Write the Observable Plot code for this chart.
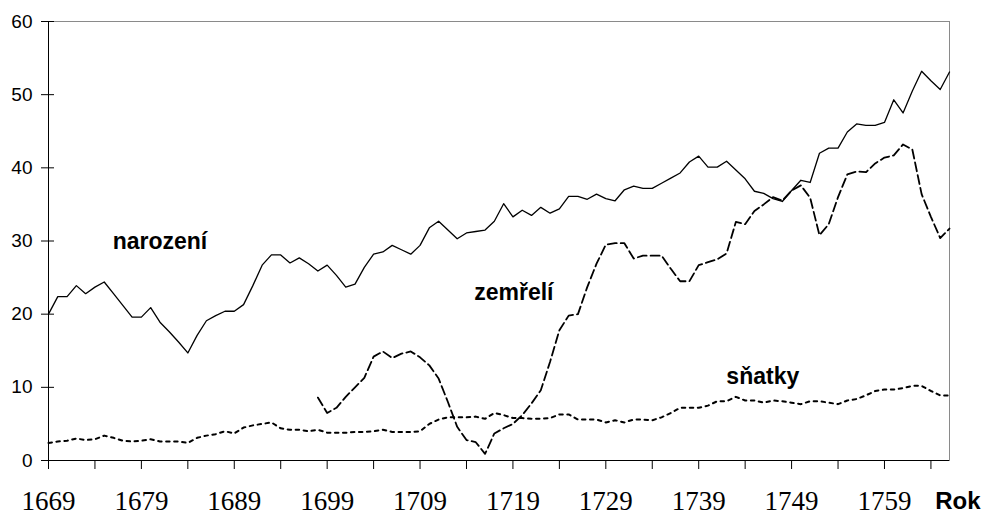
<!DOCTYPE html>
<html>
<head>
<meta charset="utf-8">
<script src="https://cdn.jsdelivr.net/npm/d3@7"></script>
<script src="https://cdn.jsdelivr.net/npm/@observablehq/plot@0.6"></script>
<style>
  html, body { margin: 0; padding: 0; background: #fff; }
  #chart svg { display: block; }
</style>
</head>
<body>
<div id="chart"></div>
<script>
const startYear = 1669;

const narozeni = [20, 22.4, 22.4, 23.9, 22.8, 23.7, 24.4, 22.8, 21.2, 19.6,
  19.6, 20.9, 18.9, 17.6, 16.2, 14.7, 17.1, 19.1, 19.8, 20.4,
  20.4, 21.3, 23.9, 26.7, 28.1, 28.1, 27.0, 27.7, 26.9, 25.9,
  26.7, 25.3, 23.7, 24.1, 26.4, 28.2, 28.5, 29.4, 28.8, 28.2,
  29.4, 31.8, 32.7, 31.5, 30.3, 31.1, 31.3, 31.5, 32.7, 35.1,
  33.3, 34.2, 33.5, 34.6, 33.8, 34.4, 36.1, 36.1, 35.7, 36.4,
  35.8, 35.5, 37.0, 37.5, 37.2, 37.2, 37.9, 38.6, 39.3, 40.8,
  41.6, 40.1, 40.1, 40.9, 39.7, 38.5, 36.8, 36.5, 35.8, 35.4,
  36.9, 38.3, 38.0, 42.0, 42.7, 42.7, 44.9, 46.0, 45.8, 45.8,
  46.2, 49.3, 47.5, 50.5, 53.2, 51.9, 50.7, 53.1];

// zemřelí: recorded from 1698
const zemreliStart = 1698;
const zemreli = [8.6, 6.5, 7.2, 8.7, 10.0, 11.3, 14.2, 14.9, 14.0, 14.6,
  14.9, 14.1, 13.0, 11.2, 8.0, 4.6, 2.8, 2.5, 0.9, 3.7,
  4.4, 5.0, 6.2, 7.8, 9.6, 13.5, 17.8, 19.8, 20.0, 23.7,
  26.9, 29.5, 29.7, 29.7, 27.6, 28.0, 28.0, 28.0, 26.2, 24.5,
  24.5, 26.7, 27.1, 27.5, 28.3, 32.6, 32.3, 34.1, 35.0, 36.0,
  35.5, 36.9, 37.6, 35.9, 30.8, 32.3, 36.0, 39.1, 39.5, 39.4,
  40.6, 41.4, 41.7, 43.2, 42.5, 36.4, 33.3, 30.4, 31.7];

const snatky = [2.4, 2.6, 2.7, 3.0, 2.8, 2.9, 3.4, 3.1, 2.7, 2.6,
  2.7, 2.9, 2.6, 2.6, 2.6, 2.4, 3.1, 3.4, 3.6, 4.0,
  3.7, 4.5, 4.8, 5.0, 5.2, 4.4, 4.2, 4.2, 4.0, 4.2,
  3.8, 3.8, 3.8, 3.9, 3.9, 4.0, 4.2, 3.9, 3.9, 3.9,
  4.0, 5.0, 5.6, 5.9, 5.9, 5.9, 6.0, 5.7, 6.5, 6.2,
  5.8, 5.8, 5.7, 5.7, 5.8, 6.3, 6.3, 5.6, 5.6, 5.6,
  5.2, 5.5, 5.2, 5.6, 5.6, 5.5, 5.9, 6.5, 7.2, 7.2,
  7.2, 7.5, 8.1, 8.1, 8.7, 8.2, 8.2, 7.9, 8.2, 8.1,
  7.9, 7.7, 8.1, 8.1, 7.9, 7.7, 8.2, 8.4, 8.9, 9.5,
  9.7, 9.7, 9.9, 10.2, 10.2, 9.5, 8.9, 8.9];

const yTicks = [0, 10, 20, 30, 40, 50, 60];
const xTickYears = [1669, 1674, 1679, 1684, 1689, 1694, 1699, 1704, 1709, 1714,
  1719, 1724, 1729, 1734, 1739, 1744, 1749, 1754, 1759, 1764];
const xLabelYears = [1669, 1679, 1689, 1699, 1709, 1719, 1729, 1739, 1749, 1759];
const xAxisTitle = "Rok";
const seriesLabels = [
  {text: "narození", year: 1681.0, value: 29.9},
  {text: "zemřelí", year: 1719.1, value: 23.0},
  {text: "sňatky", year: 1745.9, value: 11.5}
];

const toRows = (arr, y0) => arr.map((v, i) => ({year: y0 + i, value: v}));
const narRows = toRows(narozeni, startYear);
const zemRows = toRows(zemreli, zemreliStart);
const snaRows = toRows(snatky, startYear);

const lastYear = startYear + narozeni.length - 1;

const chart = Plot.plot({
  width: 983,
  height: 515,
  marginLeft: 48,
  marginRight: 34,
  marginTop: 21,
  marginBottom: 55,
  x: {domain: [startYear, lastYear]},
  y: {domain: [0, 60]},
  style: {background: "white", fontFamily: "'Liberation Sans', Arial, sans-serif", color: "black"},
  marks: [
    Plot.frame({stroke: "#8a8a8a", strokeWidth: 1}),
    Plot.ruleY([0], {stroke: "black", strokeWidth: 1}),
    Plot.ruleX([startYear], {stroke: "black", strokeWidth: 1}),
    Plot.axisY({ticks: yTicks, tickSize: 13, dx: 6, tickPadding: 9, fontSize: 19,
      tickFormat: d => String(d), label: null, strokeWidth: 1}),
    Plot.axisX({ticks: xTickYears, tickSize: 9, strokeWidth: 1,
      tickFormat: () => "", label: null}),
    Plot.axisX({ticks: xLabelYears, tickSize: 0, tickPadding: 30,
      fontSize: 27, fontFamily: "'Liberation Serif', 'Times New Roman', serif",
      tickFormat: d => String(d), label: null}),
    Plot.lineY(snaRows, {x: "year", y: "value", stroke: "black", strokeWidth: 2,
      strokeDasharray: "3.5,4.5"}),
    Plot.lineY(zemRows, {x: "year", y: "value", stroke: "black", strokeWidth: 1.8,
      strokeDasharray: "9,4"}),
    Plot.lineY(narRows, {x: "year", y: "value", stroke: "black", strokeWidth: 1.3}),
    Plot.text(seriesLabels, {x: "year", y: "value", text: "text", fontSize: 23,
      fontWeight: "bold", fill: "black", textAnchor: "middle", lineAnchor: "middle"}),
    Plot.text([xAxisTitle], {frameAnchor: "bottom-right", dx: 31, dy: 41, fontSize: 24,
      fontWeight: "bold", fill: "black", textAnchor: "end", lineAnchor: "middle"})
  ]
});

document.getElementById("chart").appendChild(chart);
</script>
</body>
</html>
